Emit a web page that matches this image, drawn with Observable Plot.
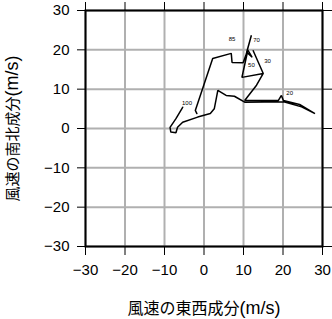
<!DOCTYPE html>
<html>
<head>
<meta charset="utf-8">
<script src="https://cdn.jsdelivr.net/npm/d3@7"></script>
<script src="https://cdn.jsdelivr.net/npm/@observablehq/plot@0.6"></script>
<style>
  html, body { margin: 0; padding: 0; background: #fff; }
  #chart svg { display: block; }
</style>
</head>
<body>
<div id="chart"></div>
<script>
// Hodograph: east-west (u) and north-south (v) wind components, m/s
const uWind = [-1.8, -2.2, 2.2, 6.9, 7.1, 9.9, 10.6, 12.0, 10.8, 12.2, 11.1, 9.6, 15.0, 12.4, 15.0, 13.3, 10.3,
               18.8, 19.6, 20.1, 24.2, 28.1, 24.7, 20.2, 10.3, 7.7, 5.6, 3.5, 3.1, 2.6, 1.6, -1.6, -5.4,
               -6.7, -7.1, -8.4, -8.6, -7.1, -5.4];
const vWind = [3.8, 4.6, 17.8, 19.1, 16.8, 16.7, 18.6, 23.7, 19.4, 18.1, 19.9, 13.0, 14.0, 19.9, 14.0, 11.0, 7.1,
               7.1, 8.4, 7.1, 6.1, 3.8, 5.5, 6.8, 6.7, 8.2, 8.4, 9.7, 7.6, 5.0, 3.8, 2.9, 1.6,
               0.3, -1.1, -0.9, 0.3, 2.5, 5.4];

// level labels along the curve
const levelNames = ["100", "85", "70", "50", "30", "20"];
const levelU = [-4.3, 7.1, 13.3, 12.0, 16.1, 21.7];
const levelV = [6.4, 22.7, 22.4, 16.1, 17.1, 8.9];

const axisTicks = [-30, -20, -10, 0, 10, 20, 30];
const xLabelMain = "風速の東西成分";
const yLabelMain = "風速の南北成分";
const unitLabel = "(m/s)";

const path = uWind.map((u, i) => ({u, v: vWind[i]}));
const levels = levelNames.map((name, i) => ({name, u: levelU[i], v: levelV[i]}));

const chart = Plot.plot({
  width: 332,
  height: 319,
  marginLeft: 85,
  marginRight: 10,
  marginTop: 10,
  marginBottom: 73,
  style: {fontFamily: "'Liberation Sans', 'Noto Sans CJK JP', sans-serif", fontSize: "15px", color: "#000", background: "#fff"},
  x: {domain: [-30, 30]},
  y: {domain: [-30, 30]},
  marks: [
    Plot.gridX(axisTicks, {stroke: "#b0b0b0", strokeOpacity: 1, strokeWidth: 2}),
    Plot.gridY(axisTicks, {stroke: "#b0b0b0", strokeOpacity: 1, strokeWidth: 2}),
    Plot.axisX(axisTicks, {anchor: "bottom", tickSize: 9, tickPadding: 9, label: null, fontSize: 15}),
    Plot.axisY(axisTicks, {anchor: "left", tickSize: 8, tickPadding: 8, label: null, fontSize: 15}),
    Plot.axisX(axisTicks, {anchor: "top", tickSize: 9, tickFormat: () => "", label: null}),
    Plot.axisY(axisTicks, {anchor: "right", tickSize: 9, tickFormat: () => "", label: null}),
    Plot.frame({stroke: "#000", strokeWidth: 2}),
    Plot.line(path, {x: "u", y: "v", stroke: "#000", strokeWidth: 1.5, strokeLinejoin: "miter"}),
    Plot.text(levels, {x: "u", y: "v", text: "name", fontSize: 6, fill: "#000"}),
    Plot.text([xLabelMain], {frameAnchor: "bottom", dy: 62, text: d => d, fontSize: 16, fill: "#000",
      textAnchor: "middle", lineAnchor: "middle", className: "xlab"}),
    Plot.text([yLabelMain], {frameAnchor: "left", dx: -73, rotate: -90, text: d => d, fontSize: 16, fill: "#000",
      textAnchor: "middle", lineAnchor: "middle", className: "ylab"})
  ]
});

// split axis titles: Japanese part in CJK font, unit part in Latin font
for (const cls of ["xlab", "ylab"]) {
  d3.select(chart).selectAll("." + cls + " text").each(function() {
    const t = d3.select(this);
    const main = t.text();
    t.text(null);
    t.append("tspan").attr("font-family", "'Noto Sans CJK JP', sans-serif").attr("font-size", cls === "xlab" ? 16 : 15).text(main);
    t.append("tspan").attr("font-family", "'Liberation Sans', sans-serif").attr("font-size", 18).text(unitLabel);
  });
}
document.getElementById("chart").appendChild(chart);
</script>
</body>
</html>
